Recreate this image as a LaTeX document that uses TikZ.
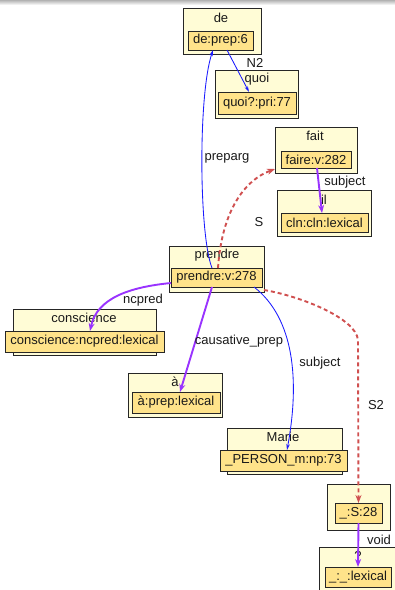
\documentclass[tikz,border=0pt]{standalone}
\usepackage{fontspec}
\setmainfont{Liberation Sans}
\usetikzlibrary{arrows.meta}
\definecolor{yelouter}{HTML}{FFFCD6}
\definecolor{yelinner}{HTML}{FFE38A}
\definecolor{purp}{HTML}{9933FF}
\definecolor{redd}{HTML}{D05050}
\definecolor{bluee}{HTML}{1A1AFF}
% #1 style, #2 name, #3 x1, #4 y1, #5 x2, #6 y2, #7 text
\newcommand\drawgbox[7]{%
  \fill[boxshade] (#3+1.3,#4+1.3) rectangle (#5+1.3,#6+1.3);
  \node[#1,minimum width={(#5-#3)*1pt},minimum height={(#6-#4)*1pt}] (#2) at ({(#3+#5)/2},{(#4+#6)/2}) {#7};}
\begin{document}
\begin{tikzpicture}[x=1pt,y=-1pt,
  font=\fontsize{13}{15}\selectfont,
  boxshade/.style={fill=black!70},
  outerbox/.style={draw=black!85,line width=0.9pt,fill=yelouter,inner sep=0pt,outer sep=0pt},
  innerbox/.style={draw=black!85,line width=0.9pt,fill=yelinner,inner sep=0pt,outer sep=0pt,text=black!90},
  lab/.style={inner sep=0pt,text=black!90},
  blueedge/.style={draw=bluee,line width=0.85pt,-{Stealth[length=6pt,width=3.5pt]}},
  purpedge/.style={draw=purp,line width=1.9pt,-{Stealth[length=8pt,width=6pt]}},
  rededge/.style={draw=redd,line width=1.9pt,dash pattern=on 4pt off 3pt,-{Stealth[length=8pt,width=6pt]}}]
\useasboundingbox (0,0) rectangle (395,590);
\shade[top color=black!30,bottom color=white] (0,0) rectangle (395,5);
% outer boxes
\drawgbox{outerbox}{deO}{183}{8}{261}{54}{}
\drawgbox{outerbox}{quoiO}{215}{70}{298}{118}{}
\drawgbox{outerbox}{faitO}{275}{127}{357}{173}{}
\drawgbox{outerbox}{ilO}{277}{190}{371}{236}{}
\drawgbox{outerbox}{prendreO}{169}{246}{264}{292}{}
\drawgbox{outerbox}{conscO}{13}{309}{156}{355}{}
\drawgbox{outerbox}{aO}{128}{373}{222}{417}{}
\drawgbox{outerbox}{marieO}{227}{428}{342}{474}{}
\drawgbox{outerbox}{sO}{327}{484}{390}{530}{}
\drawgbox{outerbox}{qO}{319}{547}{398}{600}{}
% outer labels
\node[lab] (deL) at (221,18) {de};
\node[lab] (quoiL) at (257,79) {quoi};
\node[lab] (faitL) at (315,136) {fait};
\node[lab] (ilL) at (324,200) {il};
\node[lab] (prendreL) at (217,255) {prendre};
\node[lab] (conscL) at (84,318) {conscience};
\node[lab] (aL) at (175,382) {à};
\node[lab] (marieL) at (283,437) {Marie};
\node[lab] (qL) at (358,556) {?};
% inner boxes
\drawgbox{innerbox}{deI}{188}{31}{253}{50}{de:prep:6}
\drawgbox{innerbox}{quoiI}{218}{92}{296}{114}{quoi?:pri:77}
\drawgbox{innerbox}{faitI}{281}{151}{351}{168}{faire:v:282}
\drawgbox{innerbox}{ilI}{281}{213}{368}{232}{cln:cln:lexical}
\drawgbox{innerbox}{prendreI}{171}{268}{262}{287}{prendre:v:278}
\drawgbox{innerbox}{conscI}{5}{331}{164}{352}{conscience:ncpred:lexical}
\drawgbox{innerbox}{aI}{132}{392}{220}{413}{à:prep:lexical}
\drawgbox{innerbox}{marieI}{220}{450}{347}{471}{\_PERSON\_m:np:73}
\drawgbox{innerbox}{sI}{335}{503}{382}{523}{\_:S:28}
\drawgbox{innerbox}{qI}{325}{567}{391}{587}{\_:\_:lexical}
% edges
\draw[blueedge] ([xshift=-4.5pt]prendreI.north) .. controls (199,235) and (198,95) .. ([xshift=-7.5pt]deI.south);
\draw[blueedge] ([xshift=6.5pt]deI.south) -- ([xshift=-8pt]quoiI.north);
\draw[rededge] ([xshift=1.5pt]prendreI.north) .. controls (222,210) and (245,180) .. ([yshift=4pt]faitO.south west);
\draw[purpedge] ([xshift=1pt]faitI.south) -- ([xshift=-2.5pt]ilI.north);
\draw[purpedge] ([yshift=4pt]prendreI.south west) .. controls (130,287) and (97,298) .. ([xshift=5.5pt]conscI.north);
\draw[purpedge] ([xshift=-4.5pt]prendreI.south) -- ([xshift=4pt]aI.north);
\draw[blueedge] ([xshift=-8pt]prendreI.south east) .. controls (294,318) and (300,380) .. ([xshift=3.5pt]marieI.north);
\draw[rededge] ([yshift=2pt]prendreO.south east) .. controls (300,296) and (356,318) .. (358,340) -- (sI.north);
\draw[purpedge] (sI.south) -- (qI.north);
% edge labels
\node[lab] (n2L) at (255,63) {N2};
\node[lab] (prepargL) at (227,158) {preparg};
\node[lab] (sL) at (259,222) {S};
\node[lab] (subj1L) at (345,182) {subject};
\node[lab] (ncpredL) at (143,300) {ncpred};
\node[lab] (causL) at (239,341) {causative\_prep};
\node[lab] (subj2L) at (320,363) {subject};
\node[lab] (s2L) at (376,405) {S2};
\node[lab] (voidL) at (379,540) {void};
\end{tikzpicture}
\end{document}
